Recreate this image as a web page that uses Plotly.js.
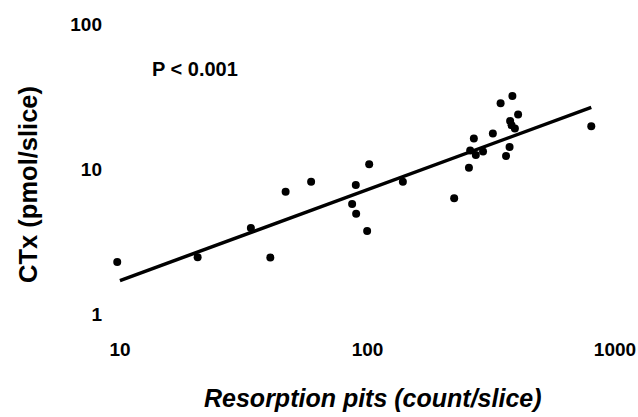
<!DOCTYPE html>
<html>
<head>
<meta charset="utf-8">
<script src="https://cdn.plot.ly/plotly-3.0.1.min.js"></script>
<style>html,body{margin:0;padding:0;background:#fff;}#chart{width:638px;height:417px;}</style>
</head>
<body>
<div id="chart"></div>
<script>
// Scatter points: resorption pits (count/slice) vs CTx (pmol/slice)
const pits = [9.75, 20.6, 33.8, 40.5, 46.7, 59.2, 101.6, 89.7, 86.7, 90, 99.7, 139, 224, 257, 269, 260, 274, 293, 321, 345, 385, 406, 377, 382, 394, 375, 363, 802];
const ctx  = [2.28, 2.46, 3.92, 2.45, 6.97, 8.17, 10.8, 7.76, 5.74, 4.92, 3.74, 8.17, 6.28, 10.2, 16.2, 13.4, 12.5, 13.2, 17.6, 28.4, 31.9, 23.8, 21.4, 20.0, 19.0, 14.2, 12.3, 19.7];
// Regression line end points
const fitX = [10, 802];
const fitY = [1.70, 26.6];
// Tick labels
const xTicks = [10, 100, 1000];
const xTickText = ['10', '100', '1000'];
const yTicks = [1, 10, 100];
const yTickText = ['1', '10', '100'];
const xTitle = 'Resorption pits (count/slice)';
const yTitle = 'CTx (pmol/slice)';
const pText = 'P < 0.001';

const tickFont = {family: 'Liberation Sans, Arial, sans-serif', size: 19, color: '#000', weight: 'bold'};

const traces = [
  {x: fitX, y: fitY, mode: 'lines', type: 'scatter', line: {color: '#000', width: 3.5}, hoverinfo: 'skip', showlegend: false, cliponaxis: false},
  {x: pits, y: ctx, mode: 'markers', type: 'scatter', marker: {color: '#000', size: 8}, showlegend: false, cliponaxis: false}
];

const layout = {
  width: 638, height: 417,
  margin: {l: 115, r: 23, t: 24, b: 103, pad: 0},
  paper_bgcolor: '#fff', plot_bgcolor: '#fff',
  showlegend: false,
  xaxis: {type: 'log', range: [0.98, 3], tickvals: xTicks, ticktext: xTickText, showgrid: false, zeroline: false, showline: false, ticks: '', tickfont: tickFont, ticklabelstandoff: 22},
  yaxis: {type: 'log', range: [0, 2], tickvals: yTicks, ticktext: yTickText, showgrid: false, zeroline: false, showline: false, ticks: '', tickfont: tickFont, ticklabelstandoff: 12},
  annotations: [
    {text: xTitle, xref: 'paper', yref: 'paper', x: 0.515, y: -0.29, xanchor: 'center', yanchor: 'middle', showarrow: false, font: {family: 'Liberation Sans, Arial, sans-serif', size: 25, color: '#000', weight: 'bold', style: 'italic'}},
    {text: yTitle, xref: 'paper', yref: 'paper', x: -0.174, y: 0.445, xanchor: 'center', yanchor: 'middle', textangle: -90, showarrow: false, font: {family: 'Liberation Sans, Arial, sans-serif', size: 25.5, color: '#000', weight: 'bold'}},
    {text: pText, xref: 'paper', yref: 'paper', x: 0.07, y: 0.845, xanchor: 'left', yanchor: 'middle', showarrow: false, font: {family: 'Liberation Sans, Arial, sans-serif', size: 20, color: '#000', weight: 'bold'}}
  ]
};

Plotly.newPlot('chart', traces, layout, {displayModeBar: false, staticPlot: true});
</script>
</body>
</html>
